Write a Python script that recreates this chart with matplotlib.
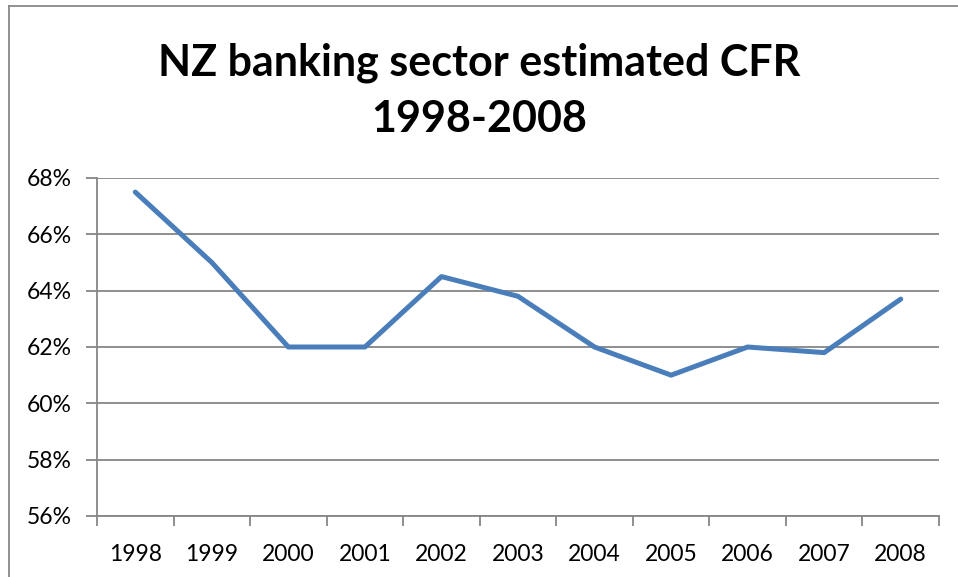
import matplotlib
matplotlib.use("Agg")
import matplotlib.pyplot as plt
from matplotlib.lines import Line2D
from matplotlib.ticker import FuncFormatter, FixedLocator
import numpy as np

years = ["1998", "1999", "2000", "2001", "2002", "2003", "2004", "2005", "2006", "2007", "2008"]
cfr = [67.5, 65.0, 62.0, 62.0, 64.5, 63.8, 62.0, 61.0, 62.0, 61.8, 63.7]
y_ticks = [56, 58, 60, 62, 64, 66, 68]
title = "NZ banking sector estimated CFR\n1998-2008"

plt.rcParams['font.family'] = ['Lato', 'DejaVu Sans']

W, H = 958, 577
fig = plt.figure(figsize=(W / 100, H / 100), dpi=100)
fig.patch.set_facecolor("white")

# outer chart border (partially visible)
border_c = "#888888"
fig.add_artist(Line2D([9 / W, 9 / W], [0, 1 - 6 / H], transform=fig.transFigure, color=border_c, lw=1.3))
fig.add_artist(Line2D([9 / W, 1], [1 - 6 / H, 1 - 6 / H], transform=fig.transFigure, color=border_c, lw=1.3))

ax = fig.add_axes([97 / W, 1 - 516 / H, (939 - 97) / W, (516 - 178) / H])
x = np.arange(len(years))
ax.plot(x, cfr, color="#4A7EBB", lw=3.6, solid_joinstyle="round", solid_capstyle="round", zorder=3)

ax.set_xlim(-0.5, len(years) - 0.5)
ax.set_ylim(y_ticks[0], y_ticks[-1])
ax.set_yticks(y_ticks)
ax.yaxis.set_major_formatter(FuncFormatter(lambda v, p: f"{v:.0f}%"))
ax.grid(axis="y", color="#868686", lw=1.3)
ax.set_axisbelow(True)

ax.xaxis.set_major_locator(FixedLocator(np.arange(-0.5, len(years), 1.0)))
ax.xaxis.set_major_formatter(FuncFormatter(lambda v, p: ""))
ax.xaxis.set_minor_locator(FixedLocator(x))
ax.set_xticklabels(years, minor=True)
ax.tick_params(axis="x", which="major", length=7, width=1.3, color="#868686", direction="out")
ax.tick_params(axis="x", which="minor", length=0, pad=20, labelsize=16.5)
ax.tick_params(axis="y", length=8, width=1.3, color="#868686", labelsize=16.5, pad=10)

for s in ["top", "right"]:
    ax.spines[s].set_visible(False)
for s in ["left", "bottom"]:
    ax.spines[s].set_color("#868686")
    ax.spines[s].set_linewidth(1.3)

fig.text(0.5, 1 - 91 / H, title, ha="center", va="center", fontsize=31, fontweight="bold",
         linespacing=1.5)

fig.savefig("out.png", dpi=100, facecolor="white")
